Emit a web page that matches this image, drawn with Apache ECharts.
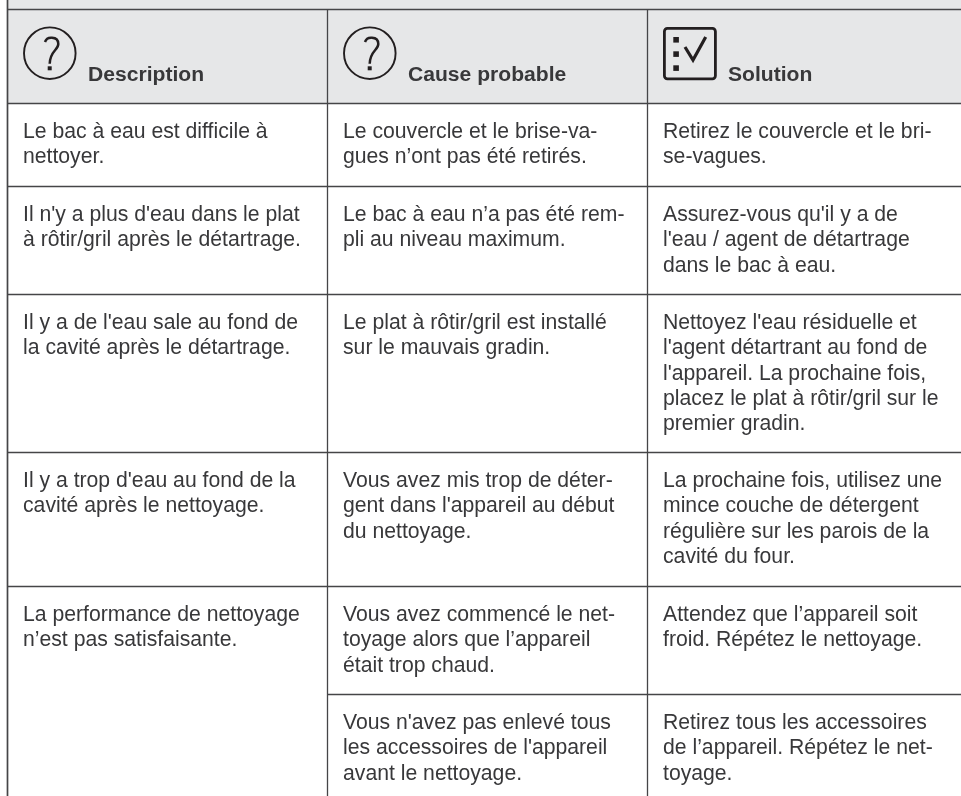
<!DOCTYPE html>
<html><head><meta charset="utf-8">
<style>html,body{margin:0;padding:0;background:#fff}#c{width:961px;height:796px}</style>
<script src="https://cdn.jsdelivr.net/npm/echarts@6/dist/echarts.min.js"></script>
</head><body><div id="c"></div>
<script>
const headers = ['Description', 'Cause probable', 'Solution'];
const descriptions = [
  ['Le bac à eau est difficile à', 'nettoyer.'],
  ["Il n'y a plus d'eau dans le plat", 'à rôtir/gril après le détartrage.'],
  ["Il y a de l'eau sale au fond de", 'la cavité après le détartrage.'],
  ["Il y a trop d'eau au fond de la", 'cavité après le nettoyage.'],
  ['La performance de nettoyage', 'n’est pas satisfaisante.'],
  null
];
const causes = [
  ['Le couvercle et le brise-va-', 'gues n’ont pas été retirés.'],
  ['Le bac à eau n’a pas été rem-', 'pli au niveau maximum.'],
  ['Le plat à rôtir/gril est installé', 'sur le mauvais gradin.'],
  ['Vous avez mis trop de déter-', "gent dans l'appareil au début", 'du nettoyage.'],
  ['Vous avez commencé le net-', 'toyage alors que l’appareil', 'était trop chaud.'],
  ["Vous n'avez pas enlevé tous", "les accessoires de l'appareil", 'avant le nettoyage.']
];
const solutions = [
  ['Retirez le couvercle et le bri-', 'se-vagues.'],
  ["Assurez-vous qu'il y a de", "l'eau / agent de détartrage", 'dans le bac à eau.'],
  ["Nettoyez l'eau résiduelle et", "l'agent détartrant au fond de", "l'appareil. La prochaine fois,", 'placez le plat à rôtir/gril sur le', 'premier gradin.'],
  ['La prochaine fois, utilisez une', 'mince couche de détergent', 'régulière sur les parois de la', 'cavité du four.'],
  ['Attendez que l’appareil soit', 'froid. Répétez le nettoyage.'],
  ['Retirez tous les accessoires', 'de l’appareil. Répétez le net-', 'toyage.']
];
const columns = [descriptions, causes, solutions];

// layout (pixels)
const W = 961, H = 796;
const colX = [7.5, 327.5, 647.5];
const textPad = 15.5, headerTextPad = 80.5;
const headerTop = 9.5, headerBottom = 103.5;
const lineH = 25.1, rowPad = 32.8, firstBase = 34.5;
const FONT = '"Liberation Sans", Arial, sans-serif';
const bodySize = 21.2, headSize = 21.1;
const INK = '#38383a', RULE = '#454547', BAND = '#e6e7e8', ICON = '#231f20';

// row bottoms follow the number of text lines in the row
const rowTops = [headerBottom];
const rowLines = solutions.map((s, i) => Math.max(s.length, causes[i].length, (descriptions[i] || []).length));
let acc = headerBottom;
rowLines.forEach(n => { acc += rowPad + n * lineH; rowTops.push(Math.floor(acc) + 0.5); });

function renderTable(params, api) {
  const P = (x, y) => api.coord([x, y]);
  const kids = [];
  const rule = (x1, y1, x2, y2, w) => {
    const a = P(x1, y1), b = P(x2, y2);
    kids.push({type:'line', shape:{x1:a[0],y1:a[1],x2:b[0],y2:b[1]}, style:{stroke:RULE, lineWidth:w||1.5}});
  };
  const text = (x, base, s, size, weight) => {
    const p = P(x, base);
    kids.push({type:'text', style:{x:p[0], y:p[1], text:s, fill:INK, align:'left', verticalAlign:'bottom',
      font:(weight||'normal')+' '+size+'px '+FONT}});
  };
  // bands
  const a0 = P(colX[0], 0), a1 = P(W, headerTop), b0 = P(colX[0], headerTop), b1 = P(W, headerBottom);
  kids.push({type:'rect', shape:{x:a0[0],y:a0[1],width:a1[0]-a0[0],height:a1[1]-a0[1]}, style:{fill:BAND}});
  kids.push({type:'rect', shape:{x:b0[0],y:b0[1],width:b1[0]-b0[0],height:b1[1]-b0[1]}, style:{fill:BAND}});
  // rules
  rule(colX[0], headerTop, W, headerTop);
  rule(colX[0], headerBottom, W, headerBottom);
  rowTops.slice(1).forEach((y, i) => {
    if (y > H) return;
    rule(descriptions[i + 1] === null ? colX[1] : colX[0], y, W, y);
  });
  rule(colX[0], 0, colX[0], H, 1.7);
  rule(colX[1], headerTop, colX[1], H, 1.3);
  rule(colX[2], headerTop, colX[2], H, 1.3);
  // headers
  headers.forEach((h, c) => text(colX[c] + headerTextPad, 85.5, h, headSize, 'bold'));
  // cells
  columns.forEach((col, c) => col.forEach((cell, r) => {
    if (!cell) return;
    cell.forEach((ln, i) => text(colX[c] + textPad, rowTops[r] + firstBase + 5 + i * lineH, ln, bodySize));
  }));
  // question icons
  [0, 320].forEach(dx => {
    const s = {stroke:ICON, lineWidth:1.9, fill:null};
    const q = {stroke:ICON, lineWidth:2.5, fill:null, lineCap:'butt'};
    kids.push({type:'circle', shape:{cx:49.8+dx, cy:53.2, r:25.8}, style:s});
    kids.push({type:'bezierCurve', shape:{x1:45+dx,y1:42,cpx1:46+dx,cpy1:39,cpx2:49+dx,cpy2:37.5,x2:52+dx,y2:37.8}, style:q});
    kids.push({type:'bezierCurve', shape:{x1:52+dx,y1:37.8,cpx1:56+dx,cpy1:38,cpx2:58.3+dx,cpy2:40.5,x2:58.3+dx,y2:44}, style:q});
    kids.push({type:'bezierCurve', shape:{x1:58.3+dx,y1:44,cpx1:58.3+dx,cpy1:50,cpx2:50+dx,cpy2:51,x2:49.7+dx,y2:63.7}, style:q});
    kids.push({type:'rect', shape:{x:47.7+dx,y:66.3,width:4,height:4}, style:{fill:ICON}});
  });
  // checklist icon
  const k = {stroke:ICON, lineWidth:2.8, fill:null};
  kids.push({type:'rect', shape:{x:664.4,y:28.4,width:51,height:50.4,r:3}, style:k});
  [37, 51.3, 65.3].forEach(y => kids.push({type:'rect', shape:{x:673.3,y:y,width:5.6,height:5.6}, style:{fill:ICON}}));
  kids.push({type:'polyline', shape:{points:[[685,47],[693,60],[705.7,37]]}, style:{stroke:ICON, lineWidth:3.2, fill:null}});
  return {type:'group', children:kids};
}

const chart = echarts.init(document.getElementById('c'), null, {renderer:'canvas'});
chart.setOption({
  animation:false,
  backgroundColor:'#fff',
  grid:{left:0,right:0,top:0,bottom:0},
  xAxis:{type:'value',min:0,max:W,show:false},
  yAxis:{type:'value',min:0,max:H,inverse:true,show:false},
  series:[{type:'custom', coordinateSystem:'cartesian2d', silent:true, clip:false,
    data:[[0,0]], renderItem:renderTable}]
});
</script></body></html>
